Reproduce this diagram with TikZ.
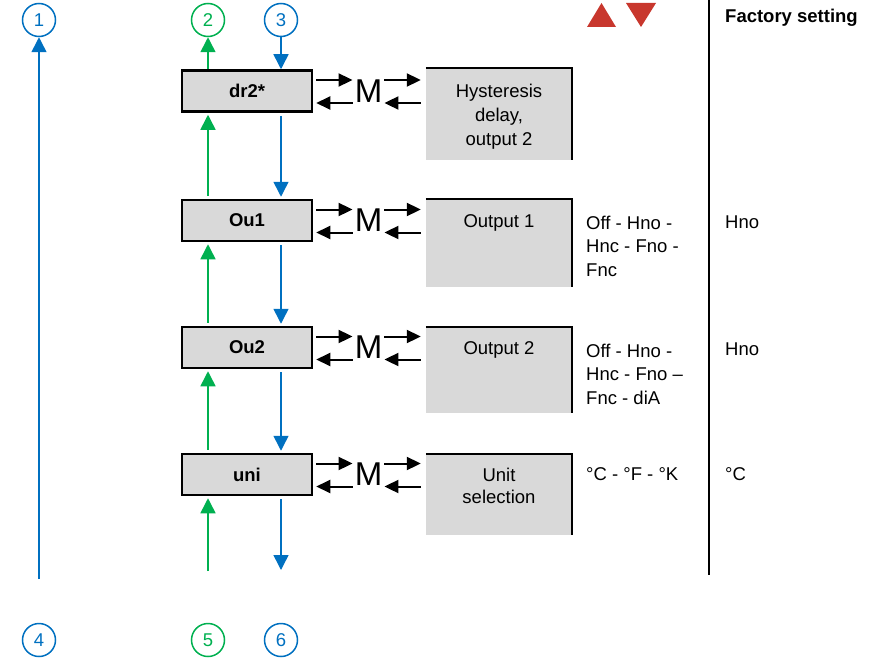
\documentclass[tikz,border=0pt]{standalone}
\usepackage{fontspec}
\setmainfont{Liberation Sans}
\usetikzlibrary{arrows.meta,calc}
\definecolor{cblue}{RGB}{0,112,192}
\definecolor{cgreen}{RGB}{0,176,80}
\definecolor{cred}{RGB}{200,55,45}
\definecolor{boxgray}{RGB}{217,217,217}
\begin{document}
\begin{tikzpicture}[x=1pt,y=-1pt,
  txt/.style={font=\fontsize{18.5}{24}\selectfont, inner sep=0pt},
  num/.style={circle, draw, line width=1.5pt, minimum size=33pt, inner sep=0pt, font=\fontsize{18.5}{22}\selectfont},
  bnum/.style={num, draw=cblue, text=cblue},
  gnum/.style={num, draw=cgreen, text=cgreen},
  menubox/.style={draw, fill=boxgray, line width=2.5pt, minimum width=130pt, minimum height=41pt, inner sep=0pt, font=\fontsize{18.5}{22}\selectfont\bfseries},
  infobox/.style={fill=boxgray, minimum width=146pt, inner sep=0pt},
  mlabel/.style={inner sep=0pt, font=\fontsize{33}{36}\selectfont},
  bluearr/.style={draw=cblue, line width=1.5pt, -{Triangle[length=15pt,width=15pt]}},
  greenarr/.style={draw=cgreen, line width=1.5pt, -{Triangle[length=15pt,width=15pt]}},
  karr/.style={draw=black, line width=2pt, -{Triangle[length=14pt,width=13pt]}},
  border/.style={draw=black, line width=2.5pt}
]
\useasboundingbox (0,0) rectangle (883,661);

% numbered circles
\node[bnum] (c1) at (39,20) {1};
\node[gnum] (c2) at (208,20) {2};
\node[bnum] (c3) at (281,20) {3};
\node[bnum] (c4) at (39,640) {4};
\node[gnum] (c5) at (208,640) {5};
\node[bnum] (c6) at (281,640) {6};

% menu boxes
\node[menubox] (b1) at (247,91) {dr2*};
\node[menubox] (b2) at (247,220.5) {Ou1};
\node[menubox] (b3) at (247,347.5) {Ou2};
\node[menubox] (b4) at (247,474.5) {uni};

% M labels
\node[mlabel] (m1) at (368.5,91) {M};
\node[mlabel] (m2) at (368.5,220.5) {M};
\node[mlabel] (m3) at (368.5,347.5) {M};
\node[mlabel] (m4) at (368.5,474.5) {M};

% info boxes
\node[infobox, minimum height=92pt] (i1) at (499,114) {};
\node[infobox, minimum height=88pt] (i2) at (499,243) {};
\node[infobox, minimum height=86pt] (i3) at (499,370) {};
\node[infobox, minimum height=81pt] (i4) at (499,494.5) {};
\foreach \r in {1,2,3,4}{
  \draw[border] (i\r.north west) -- (i\r.north east) -- (i\r.south east);
}
\node[txt, align=center] (t1) at (499,117) {Hysteresis\\delay,\\output 2};
\node[txt] (t2) at (499,222.5) {Output 1};
\node[txt] (t3) at (499,349.5) {Output 2};
\node[txt, align=center, font=\fontsize{18.5}{22.5}\selectfont] (t4) at (499,485.75) {Unit\\selection};

% M arrows
\foreach \r in {1,2,3,4}{
  \draw[karr] ($(b\r.east)+(3,-11)$) -- ($(m\r.west)+(-2,-11)$);
  \draw[karr] ($(m\r.west)+(-2,12)$) -- ($(b\r.east)+(3,12)$);
  \draw[karr] ($(m\r.east)+(2,-11)$) -- ($(i\r.west |- m\r.east)+(-5,-11)$);
  \draw[karr] ($(i\r.west |- m\r.east)+(-5,12)$) -- ($(m\r.east)+(2,12)$);
}

% vertical connectors
\coordinate (e4) at (39,579);
\coordinate (e5) at (208,571);
\coordinate (e6) at (281,570);
\draw[bluearr] (e4) -- (c1);
\draw[greenarr] (b1.north -| c2) -- (c2);
\draw[bluearr] (c3) -- (b1.north -| c3);
\draw[greenarr] ($(b2.north -| c2)+(0,-3)$) -- ($(b1.south -| c2)+(0,2)$);
\draw[bluearr] ($(b1.south -| c3)+(0,3)$) -- ($(b2.north -| c3)+(0,-2)$);
\draw[greenarr] ($(b3.north -| c2)+(0,-3)$) -- ($(b2.south -| c2)+(0,2)$);
\draw[bluearr] ($(b2.south -| c3)+(0,3)$) -- ($(b3.north -| c3)+(0,-2)$);
\draw[greenarr] ($(b4.north -| c2)+(0,-3)$) -- ($(b3.south -| c2)+(0,2)$);
\draw[bluearr] ($(b3.south -| c3)+(0,3)$) -- ($(b4.north -| c3)+(0,-2)$);
\draw[greenarr] (e5) -- ($(b4.south -| c2)+(0,2)$);
\draw[bluearr] ($(b4.south -| c3)+(0,3)$) -- (e6);

% red triangles
\fill[cred] (587,27) -- (616,27) -- (601.5,3) -- cycle;
\fill[cred] (626,3) -- (656,3) -- (641,27) -- cycle;

% separator
\coordinate (s1) at (709,0);
\coordinate (s2) at (709,575);
\draw[line width=2pt] (s1) -- (s2);

% right column texts
\node[txt, anchor=west, font=\fontsize{18.5}{24}\selectfont\bfseries] (fs) at (725,18) {Factory setting};
\node[txt, anchor=west, align=left, font=\fontsize{18.5}{23.5}\selectfont] (o2) at (586,246) {Off - Hno -\\Hnc - Fno -\\Fnc};
\node[txt, anchor=west, align=left, font=\fontsize{18.5}{23.5}\selectfont] (o3) at (586,374) {Off - Hno -\\Hnc - Fno –\\Fnc - diA};
\node[txt, anchor=west] (o4) at (586,474) {°C - °F - °K};
\node[txt, anchor=west] (f2) at (725,222) {Hno};
\node[txt, anchor=west] (f3) at (725,349) {Hno};
\node[txt, anchor=west] (f4) at (725,474) {°C};
\end{tikzpicture}
\end{document}
